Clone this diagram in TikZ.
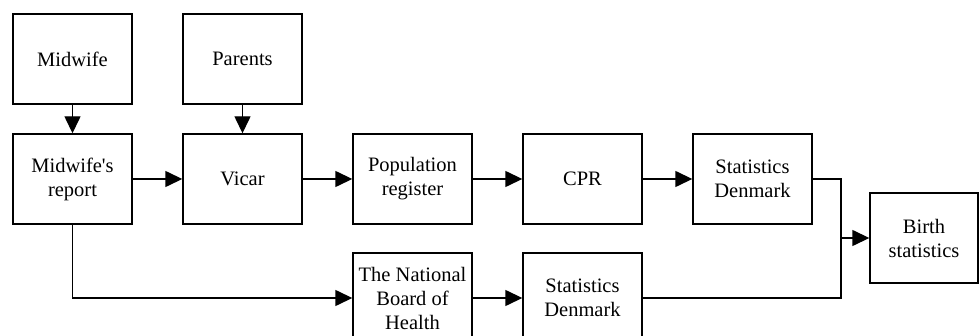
\documentclass[tikz,border=0pt]{standalone}
\usepackage{fontspec}
\setmainfont{Liberation Serif}[Ligatures=TeXOff]
\usetikzlibrary{arrows.meta}
\begin{document}
\begin{tikzpicture}[x=1pt,y=-1pt,
  box/.style={draw,line width=1.4pt,minimum width=119pt,minimum height=90pt,inner sep=0pt,
    align=center,font=\fontsize{20.5}{24}\selectfont},
  conn/.style={line width=1.4pt},
  arr/.style={conn,-{Triangle[length=17pt,width=16pt]}}]
\useasboundingbox (0,0) rectangle (979,336);
\clip (0,0) rectangle (979,336);
\fill[white] (0,0) rectangle (979,336);
\node[box] (mid) at (72.5,59) {Midwife};
\node[box] (par) at (242.5,59) {Parents};
\node[box] (rep) at (72.5,179) {Midwife's\\report};
\node[box] (vic) at (242.5,179) {Vicar};
\node[box] (pop) at (412.5,179) {Population\\register};
\node[box] (cpr) at (582.5,179) {CPR};
\node[box] (sd1) at (752.5,179) {Statistics\\Denmark};
\node[box,minimum width=108pt] (bir) at (924,238) {Birth\\statistics};
\node[box] (nbh) at (412.5,298) {The National\\Board of\\Health};
\node[box] (sd2) at (582.5,298) {Statistics\\Denmark};
\coordinate (jt) at (841,179);
\coordinate (jm) at (841,238);
\coordinate (jb) at (841,298);
\draw[arr] (mid) -- (rep);
\draw[arr] (par) -- (vic);
\draw[arr] (rep) -- (vic);
\draw[arr] (vic) -- (pop);
\draw[arr] (pop) -- (cpr);
\draw[arr] (cpr) -- (sd1);
\draw[arr] (rep.south) |- (nbh.west);
\draw[arr] (nbh) -- (sd2);
\draw[conn] (sd1.east) -- (jt) -- (jb) -- (sd2.east);
\draw[arr] (jm) -- (bir.west);
\end{tikzpicture}
\end{document}
